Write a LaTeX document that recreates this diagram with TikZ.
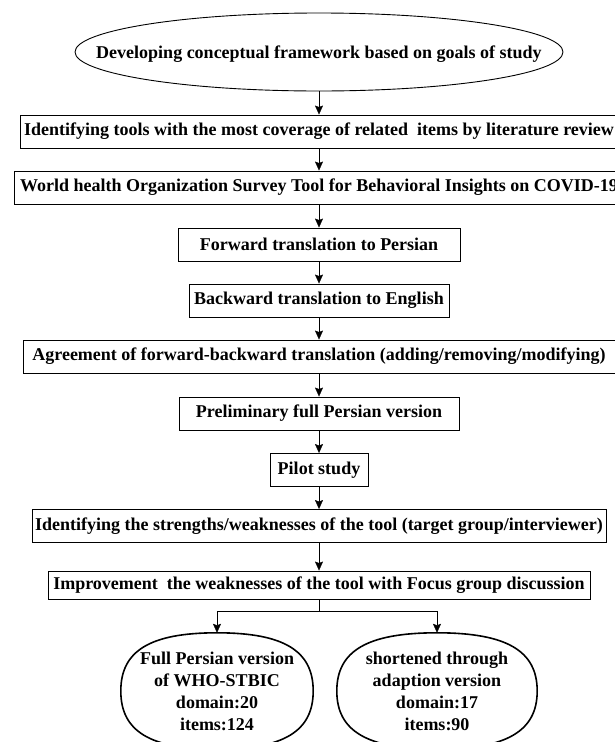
\documentclass[tikz,border=0pt]{standalone}
\usepackage{fontspec}
\setmainfont{Liberation Serif}
\usetikzlibrary{arrows.meta,shapes.geometric}

\begin{document}
\begin{tikzpicture}[x=1pt,y=-1pt,>={Stealth[length=9pt,width=8pt,inset=1.5pt]},
  boldtext/.style={font=\fontsize{18}{22}\selectfont\bfseries},
  stepbox/.style={draw,line width=0.9pt,minimum height=33pt,inner sep=0pt,boldtext},
  startnode/.style={ellipse,draw,line width=0.9pt,minimum width=488pt,
    minimum height=78pt,inner sep=0pt},
  resultnode/.style={minimum width=192pt,minimum height=116pt,inner sep=0pt,
    align=center,boldtext}]
  \useasboundingbox (0,0) rectangle (615,742);

  % Start
  \node[startnode,label={[boldtext,yshift=-2pt]center:Developing conceptual framework based on goals of study}]
    (dev) at (319,52) {};

  % Steps
  \node[stepbox,minimum width=598pt] (lit) at (319,131.5)
    {Identifying tools with the most coverage of related \ items by literature review};
  \node[stepbox,minimum width=610pt] (who) at (319,187.5)
    {World health Organization Survey Tool for Behavioral Insights on COVID-19};
  \node[stepbox,minimum width=282pt] (fwd) at (319,244.5) {Forward translation to Persian};
  \node[stepbox,minimum width=260pt] (bwd) at (319,300.5) {Backward translation to English};
  \node[stepbox,minimum width=592pt] (agr) at (319,356.5)
    {Agreement of forward-backward translation (adding/removing/modifying)};
  \node[stepbox,minimum width=280pt] (pre) at (319,413.5) {Preliminary full Persian version};
  \node[stepbox,minimum width=98pt] (pil) at (319,470) {Pilot study};
  \node[stepbox,minimum width=574pt] (swk) at (319,526)
    {Identifying the strengths/weaknesses of the tool (target group/interviewer)};
  \node[stepbox,minimum width=542pt,minimum height=28pt] (imp) at (319,585)
    {Improvement \ the weaknesses of the tool with Focus group discussion};

  % Results (rounded oval outlines)
  \node[resultnode] (full) at (217,691)
    {Full Persian version\\of WHO-STBIC\\domain:20\\items:124};
  \node[resultnode,minimum width=200pt] (short) at (437,691)
    {shortened through\\adaption version\\domain:17\\items:90};
  \foreach \n/\a in {full/96,short/100} {
    \draw[line width=1.6pt] (\n.north)
      .. controls +({0.7*\a},0) and +(0,-40) .. (\n.east)
      .. controls +(0,40) and +({0.7*\a},0) .. (\n.south)
      .. controls +({-0.7*\a},0) and +(0,40) .. (\n.west)
      .. controls +(0,-40) and +({-0.7*\a},0) .. (\n.north) -- cycle;
  }

  % Arrows
  \draw[->] (dev) -- (lit);
  \draw[->] (lit) -- (who);
  \draw[->] (who) -- (fwd);
  \draw[->] (fwd) -- (bwd);
  \draw[->] (bwd) -- (agr);
  \draw[->] (agr) -- (pre);
  \draw[->] (pre) -- (pil);
  \draw[->] (pil) -- (swk);
  \draw[->] (swk) -- (imp);
  \coordinate (split) at (319,611);
  \draw (imp) -- (split);
  \draw[->] (split) -| (full);
  \draw[->] (split) -| (short);
\end{tikzpicture}
\end{document}
